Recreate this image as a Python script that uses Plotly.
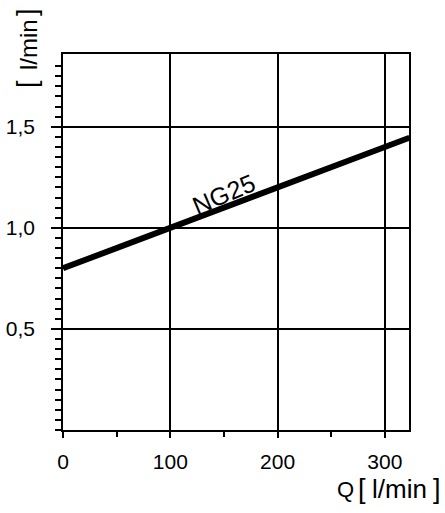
import plotly.graph_objects as go

# Data
flow_q = [0, 100, 200, 300, 323]            # Q [l/min]
flow_val = [0.80, 1.00, 1.20, 1.40, 1.446]  # [l/min]
series_name = "NG25"
x_tickvals = [0, 100, 200, 300]
x_ticktext = ["0", "100", "200", "300"]
y_tickvals = [0.5, 1.0, 1.5]
y_ticktext = ["0,5", "1,0", "1,5"]

FONT = "Liberation Sans, Arial, Helvetica, sans-serif"
L, R, T, B = 63, 36, 54, 83
W, H = 445, 513
PW, PH = W - L - R, H - T - B


def px_x(px):
    return (px - L) / PW


def px_y(py):
    return (H - B - py) / PH


fig = go.Figure()
fig.add_trace(go.Scatter(
    x=flow_q, y=flow_val, mode="lines",
    line=dict(color="black", width=6),
    showlegend=False, hoverinfo="skip",
))

fig.add_annotation(
    x=150, y=1.168, xref="x", yref="y", text=series_name, showarrow=False,
    textangle=-23, font=dict(family=FONT, size=25, color="black"),
)

# x axis title  "Q [l/min]"
for txt, cx, cy, sz in [("Q", 345, 489, 22), ("[", 362, 489, 27),
                        ("l/min", 399.5, 489, 26), ("]", 437, 489, 27)]:
    fig.add_annotation(x=px_x(cx), y=px_y(cy), xref="paper", yref="paper",
                       xanchor="center", yanchor="middle", text=txt, showarrow=False,
                       font=dict(family=FONT, size=sz, color="black"))

# y axis title  "[l/min]" rotated
for txt, cx, cy, sz in [("[", 27, 84, 27), ("l/min", 29, 45, 24), ("]", 27, 12, 27)]:
    fig.add_annotation(x=px_x(cx), y=px_y(cy), xref="paper", yref="paper",
                       xanchor="center", yanchor="middle", text=txt, showarrow=False,
                       textangle=-90, font=dict(family=FONT, size=sz, color="black"))

y_minor = [round(0.05 * i, 2) for i in range(0, 37)]
fig.update_layout(
    width=W, height=H,
    margin=dict(l=L, r=R, t=T, b=B, autoexpand=False),
    paper_bgcolor="white", plot_bgcolor="white",
    font=dict(family=FONT, size=21, color="black"),
    xaxis=dict(
        range=[0, 322.5], tickvals=x_tickvals, ticktext=x_ticktext,
        showgrid=True, gridcolor="black", gridwidth=1.5,
        showline=True, linecolor="black", linewidth=1.6, mirror=True,
        ticks="outside", ticklen=6, tickwidth=1.6, tickcolor="black",
        ticklabelstandoff=6, automargin=False,
        minor=dict(tickvals=[50, 150, 250], ticks="outside", ticklen=5,
                   tickwidth=1.6, tickcolor="black", showgrid=False),
        zeroline=False, fixedrange=True,
    ),
    yaxis=dict(
        range=[0, 1.86], tickvals=y_tickvals, ticktext=y_ticktext,
        showgrid=True, gridcolor="black", gridwidth=1.5,
        showline=True, linecolor="black", linewidth=1.6, mirror=True,
        ticks="outside", ticklen=10, tickwidth=1.6, tickcolor="black",
        ticklabelstandoff=12, automargin=False,
        minor=dict(tickvals=[v for v in y_minor if v <= 1.8], ticks="outside",
                   ticklen=6, tickwidth=1.6, tickcolor="black", showgrid=False),
        zeroline=False, fixedrange=True,
    ),
)

fig.write_html("out.html", config={"displayModeBar": False},
               post_script="document.body.style.margin='0px';")
